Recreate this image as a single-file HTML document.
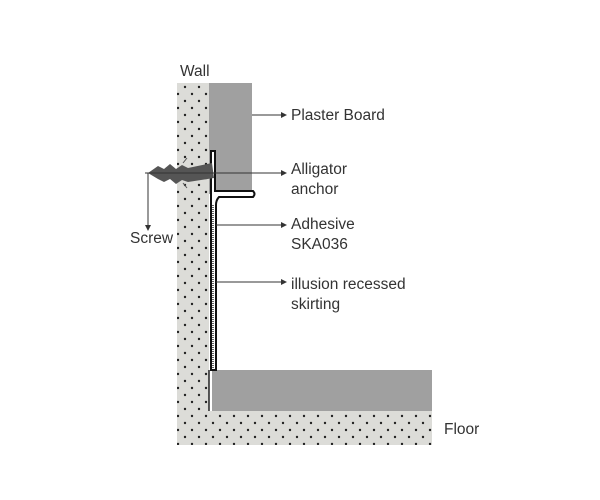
<!DOCTYPE html>
<html><head><style>body{margin:0;background:#fff}svg{display:block}text{font-family:"Liberation Sans",sans-serif;font-size:15.5px;fill:#333}</style></head><body>
<svg width="600" height="500" viewBox="0 0 600 500">
<defs>
<pattern id="dots" width="14" height="14" patternUnits="userSpaceOnUse">
<rect width="14" height="14" fill="#dcdcd8"/>
<circle cx="3" cy="3" r="1.2" fill="#222"/><circle cx="10" cy="10" r="1.2" fill="#222"/>
</pattern>
</defs>
<rect x="177" y="83" width="32" height="362" fill="url(#dots)"/>
<rect x="177" y="411" width="255" height="34" fill="url(#dots)"/>
<rect x="209" y="83" width="43" height="111" fill="#a0a0a0"/>
<rect x="212" y="370" width="220" height="41" fill="#a0a0a0"/>
<line x1="209" y1="370" x2="209" y2="411" stroke="#222" stroke-width="1.5"/>
<path d="M211 151 L215 151 L215 191 L253 191 Q256 194 253 197 L219 197 Q216 200 216 205 L216 370 L211 370 Z" fill="#fff" stroke="#111" stroke-width="2"/>
<line x1="213" y1="205" x2="213" y2="368" stroke="#333" stroke-width="1.5" stroke-dasharray="1 1"/>
<path d="M148 173 L158 166 L164 169 L170 164 L176 169 L182 165 L188 168 L212 163 L214 178 L188 182 L182 180 L176 184 L170 179 L164 182 L158 179 Z" fill="#555"/>
<line x1="183" y1="163" x2="187" y2="158" stroke="#555" stroke-width="1"/>
<line x1="183" y1="183" x2="187" y2="188" stroke="#555" stroke-width="1"/>
<line x1="145" y1="173" x2="283" y2="173" stroke="#333" stroke-width="1"/>
<line x1="148" y1="173" x2="148" y2="227" stroke="#333" stroke-width="1"/>
<path d="M145 225 L148 231 L151 225 Z" fill="#333"/>
<line x1="252" y1="115" x2="283" y2="115" stroke="#333"/>
<path d="M281 112 L287 115 L281 118 Z" fill="#333"/>
<path d="M281 170 L287 173 L281 176 Z" fill="#333"/>
<line x1="216" y1="225" x2="283" y2="225" stroke="#333"/>
<path d="M281 222 L287 225 L281 228 Z" fill="#333"/>
<line x1="216" y1="282" x2="283" y2="282" stroke="#333"/>
<path d="M281 279 L287 282 L281 285 Z" fill="#333"/>
<text x="180" y="76">Wall</text>
<text x="291" y="120">Plaster Board</text>
<text x="291" y="174">Alligator</text>
<text x="291" y="194">anchor</text>
<text x="291" y="229">Adhesive</text>
<text x="291" y="249">SKA036</text>
<text x="291" y="289">illusion recessed</text>
<text x="291" y="309">skirting</text>
<text x="130" y="243">Screw</text>
<text x="444" y="434">Floor</text>
</svg>
</body></html>
